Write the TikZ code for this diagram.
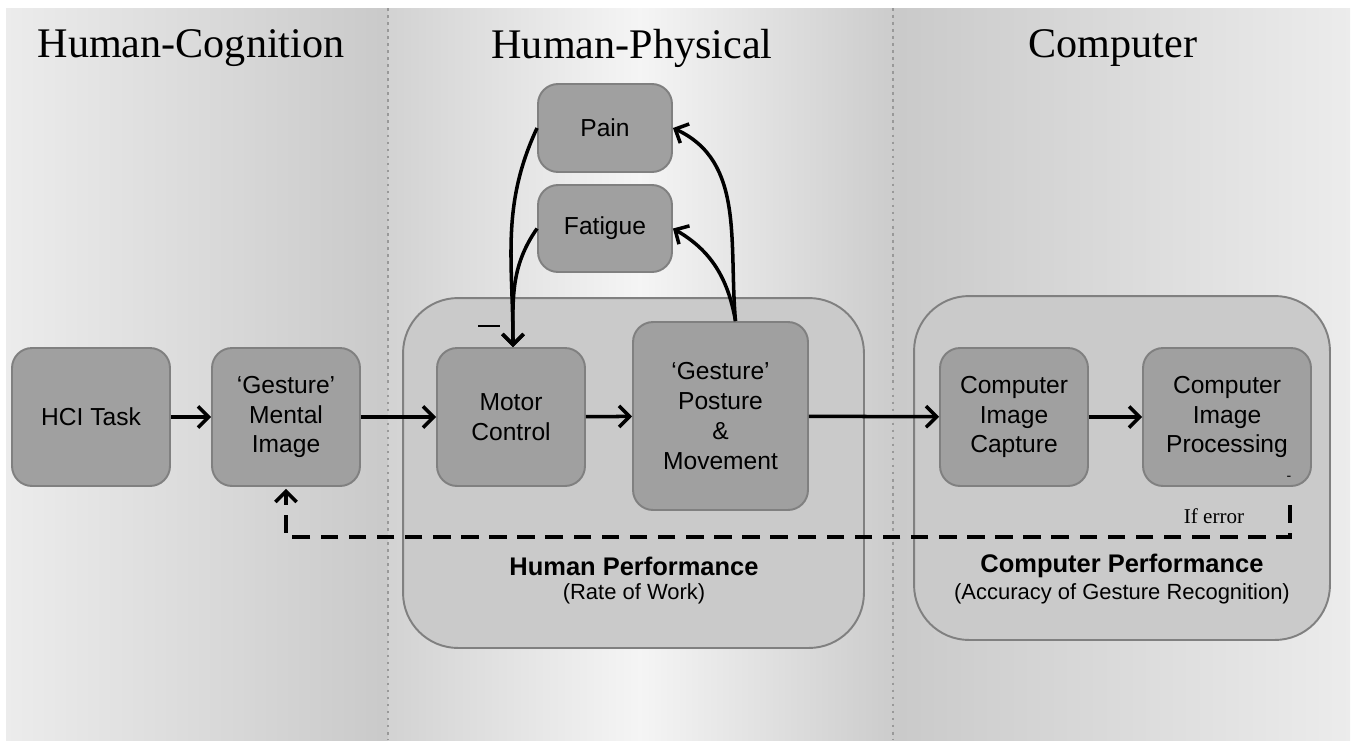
\documentclass[tikz,border=0pt]{standalone}
\usepackage{fontspec}
\setmainfont{Liberation Serif}
\newfontfamily\arialfont{Liberation Sans}
\usetikzlibrary{arrows.meta}

\definecolor{boxfill}{RGB}{160,160,160}
\definecolor{boxline}{RGB}{128,128,128}
\definecolor{panefill}{RGB}{202,202,202}

\begin{document}
\begin{tikzpicture}[x = 0.02cm, y = -0.02cm,
    stage/.style = {shape = rectangle, rounded corners = 0.4cm, draw = boxline, fill = boxfill,
        line width = 1.1pt, align = center, font = \arialfont\fontsize{14}{17}\selectfont},
    pane/.style = {shape = rectangle, rounded corners = 1.1cm, draw = boxline, fill = panefill,
        line width = 1.1pt},
    heading/.style = {font = \fontsize{24}{29}\selectfont},
    flow/.style = {line width = 2pt, -{Straight Barb[length = 6pt, width = 12pt, line width = 2pt]}},
    split/.style = {draw = gray!80, line width = 1pt, dash pattern = on 1.5pt off 2.5pt}]
    \useasboundingbox (0,0) rectangle (1355,741);
    % background panels
    \shade[left color = gray!15, right color = gray!42] (6,8) rectangle (388,740);
    \shade[left color = gray!35, right color = gray!8] (388,8) rectangle (640,740);
    \shade[left color = gray!8, right color = gray!40] (640,8) rectangle (893,740);
    \shade[left color = gray!42, right color = gray!15] (893,8) rectangle (1350,740);
    \draw[split] (388,8) -- (388,740);
    \draw[split] (893,8) -- (893,740);
    \node[heading] (cog) at (191,48) {Human-Cognition};
    \node[heading] (phy) at (632,48) {Human-Physical};
    \node[heading] (com) at (1113,48) {Computer};
    % performance panes
    \node[pane, minimum width = 9.22cm, minimum height = 7cm] (hp) at (633.5,473) {};
    \node[pane, minimum width = 8.32cm, minimum height = 6.88cm] (cp) at (1122,468) {};
    \node[font = \arialfont\bfseries\fontsize{14.5}{16}\selectfont] (hpt) at (634,566) {Human Performance};
    \node[font = \arialfont\fontsize{12.5}{14}\selectfont] (hps) at (634,594) {(Rate of Work)};
    \node[font = \arialfont\bfseries\fontsize{14.5}{16}\selectfont] (cpt) at (1122,566) {Computer Performance};
    \node[font = \arialfont\fontsize{12.5}{14}\selectfont] (cps) at (1122,594) {(Accuracy of Gesture Recognition)};
    % stages
    \node[stage, minimum width = 3.16cm, minimum height = 2.76cm] (task) at (91,417) {HCI Task};
    \node[stage, minimum width = 2.96cm, minimum height = 2.76cm] (img) at (286,417) {‘Gesture’\\Mental\\Image};
    \node[stage, minimum width = 2.96cm, minimum height = 2.76cm] (motor) at (511,417) {Motor\\Control};
    \node[stage, minimum width = 3.5cm, minimum height = 3.76cm] (post) at (720.5,416) {‘Gesture’\\Posture\\\&\\Movement};
    \node[stage, minimum width = 2.68cm, minimum height = 1.76cm] (pain) at (605,128) {Pain};
    \node[stage, minimum width = 2.68cm, minimum height = 1.74cm] (fat) at (605,228.5) {Fatigue};
    \node[stage, minimum width = 2.96cm, minimum height = 2.76cm] (cap) at (1014,417) {Computer\\Image\\Capture};
    \node[stage, minimum width = 3.36cm, minimum height = 2.76cm] (proc) at (1227,417) {Computer\\Image\\Processing};
    % main flow
    \draw[flow] (task) -- (img);
    \draw[flow] (img) -- (motor);
    \draw[flow] (motor) -- (post);
    \draw[flow] (post) -- (cap);
    \draw[flow] (cap) -- (proc);
    % feedback from the body
    \coordinate (top) at ([xshift = 0.3cm]post.north);
    \draw[flow] (pain.west) to[out = 245, in = 90] ([xshift = 0.04cm]motor.north);
    \draw[flow] (fat.west) to[out = 235, in = 90] ([xshift = 0.04cm]motor.north);
    \draw[flow] (top) to[out = 95, in = -25] (pain.east);
    \draw[flow] (top) to[out = 100, in = -30] (fat.east);
    \node[inner sep = 0pt] (neg) at (489,326) {\rule{0.44cm}{1.6pt}};
    % error loop
    \coordinate (err) at (1290,505);
    \coordinate (loop) at (286,537);
    \node[font = \fontsize{12}{14}\selectfont] (ife) at (1214,516) {If error};
    \node[font = \arialfont\fontsize{8}{9}\selectfont] (tick) at (1289,478) {-};
    \draw[flow, dash pattern = on 10pt off 6pt] (err) |- (loop) -- ([yshift = -0.04cm]img.south);
\end{tikzpicture}
\end{document}
